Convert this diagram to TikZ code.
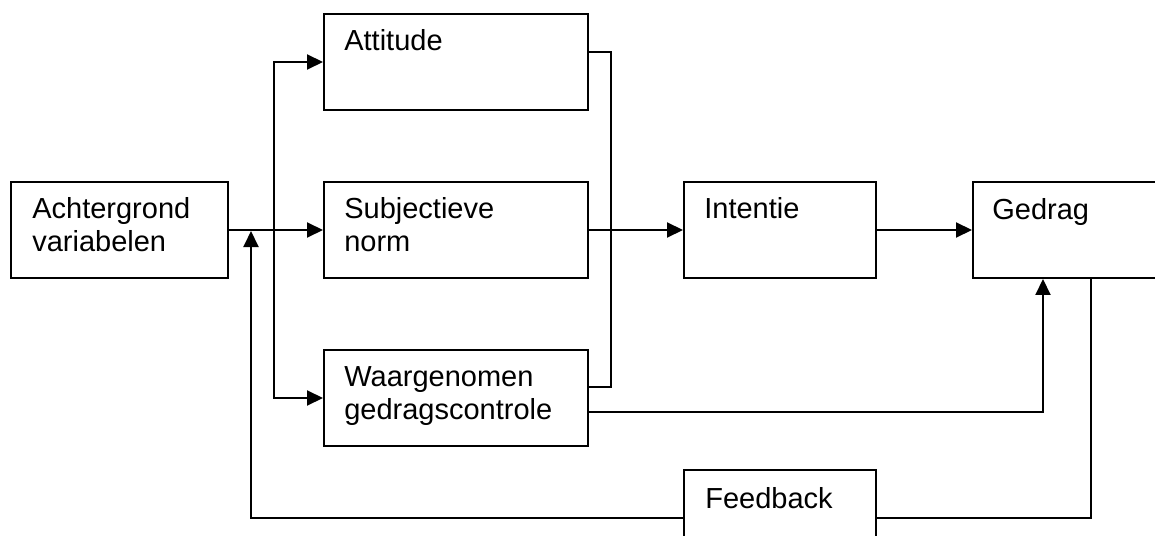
\documentclass[tikz,border=0pt]{standalone}
\usepackage{fontspec}
\setmainfont{Liberation Sans}
\usetikzlibrary{arrows.meta}
\begin{document}
\begin{tikzpicture}[x=0.02cm,y=-0.02cm,
        box/.style={draw,line width=0.04cm,inner sep=0pt,anchor=north west,minimum height=1.92cm},
        lbl/.style={anchor=base west,inner sep=0pt,align=left,font=\fontsize{16.5}{19.2}\selectfont},
        conn/.style={line width=0.04cm},
        arr/.style={conn,-{Triangle[length=0.32cm,width=0.3cm]}}]
        \useasboundingbox (0,0) rectangle (1155,535);
        % boxes
        \node[box,minimum width=4.34cm] (achter) at (10,181) {};
        \node[box,minimum width=5.28cm] (att) at (323,13) {};
        \node[box,minimum width=5.28cm] (subj) at (323,181) {};
        \node[box,minimum width=5.28cm] (waar) at (323,349) {};
        \node[box,minimum width=3.84cm] (int) at (683,181) {};
        \node[box,minimum width=3.76cm] (ged) at (972,181) {};
        \node[box,minimum width=3.84cm] (feed) at (683,469) {};
        % labels (base = last line)
        \node[lbl] (achter-t) at ([xshift=0.44cm,yshift=-1.42cm]achter.north west) {Achtergrond\\variabelen};
        \node[lbl] (att-t) at ([xshift=0.42cm,yshift=-0.76cm]att.north west) {Attitude};
        \node[lbl] (subj-t) at ([xshift=0.42cm,yshift=-1.42cm]subj.north west) {Subjectieve\\norm};
        \node[lbl] (waar-t) at ([xshift=0.42cm,yshift=-1.42cm]waar.north west) {Waargenomen\\gedragscontrole};
        \node[lbl] (int-t) at ([xshift=0.42cm,yshift=-0.74cm]int.north west) {Intentie};
        \node[lbl] (ged-t) at ([xshift=0.4cm,yshift=-0.76cm]ged.north west) {Gedrag};
        \node[lbl] (feed-t) at ([xshift=0.44cm,yshift=-0.78cm]feed.north west) {Feedback};
        % connectors
        \coordinate (split) at (274,229);
        \coordinate (join) at (611,229);
        \coordinate (fbin) at (251,231);
        \draw[arr] (achter) -- (subj);
        \draw[arr] (split) |- (att);
        \draw[arr] (split) |- (waar);
        \draw[conn] ([yshift=0.2cm]att.east) -| (join) |- ([yshift=0.22cm]waar.east);
        \draw[arr] (subj) -- (int);
        \draw[arr] (int) -- (ged);
        \draw[arr] ([yshift=-0.28cm]waar.east) -| ([xshift=1.42cm]ged.south west);
        \draw[conn] ([xshift=2.38cm]ged.south west) |- (feed);
        \draw[arr] (feed) -| (fbin);
\end{tikzpicture}
\end{document}
